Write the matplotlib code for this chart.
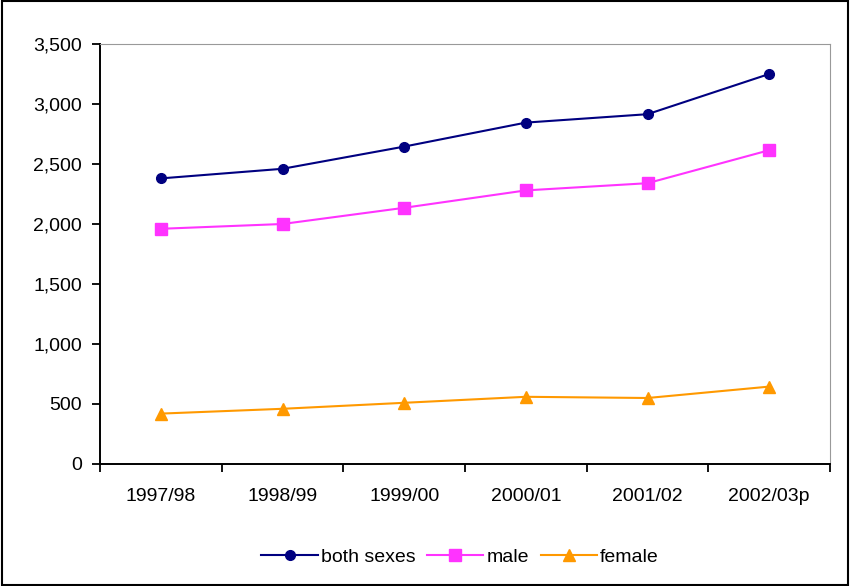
import matplotlib
matplotlib.use('Agg')
import matplotlib.pyplot as plt
from matplotlib.ticker import FuncFormatter, FixedLocator

# values
years = ['1997/98', '1998/99', '1999/00', '2000/01', '2001/02', '2002/03p']
both_sexes = [2380, 2460, 2645, 2845, 2915, 3250]
male = [1960, 2000, 2135, 2280, 2340, 2615]
female = [420, 460, 510, 560, 550, 645]

plt.rcParams['font.family'] = ['Liberation Sans', 'DejaVu Sans']

fig = plt.figure(figsize=(8.5, 5.86), dpi=100)
ax = fig.add_axes([100/850, 1 - 464/586, 730/850, 420/586])

x = range(len(years))
ax.plot(x, both_sexes, color='#000080', marker='o', markersize=7, lw=1.5, label='both sexes')
ax.plot(x, male, color='#FF33FF', marker='s', markersize=8, lw=1.5, label='male')
ax.plot(x, female, color='#FF9900', marker='^', markersize=8, lw=1.5, label='female')

ax.set_xlim(-0.5, len(years) - 0.5)
ax.set_ylim(0, 3500)
ax.set_yticks(range(0, 3501, 500))
ax.yaxis.set_major_formatter(FuncFormatter(lambda v, p: f'{int(v):,}'))

# category labels centred, tick marks on the boundaries
ax.set_xticks(list(x))
ax.set_xticklabels(years)
ax.xaxis.set_minor_locator(FixedLocator([i - 0.5 for i in range(len(years) + 1)]))
ax.tick_params(axis='x', which='major', length=0, pad=17, labelsize=14)
ax.tick_params(axis='x', which='minor', length=6, width=1.3, direction='out')
ax.tick_params(axis='y', length=6, width=1.3, pad=7, direction='out', labelsize=14)

for side in ['top', 'right']:
    ax.spines[side].set_color('#999999')
for side in ['left', 'bottom']:
    ax.spines[side].set_linewidth(1.4)

fig.legend(loc='center', bbox_to_anchor=(460/850, 1 - 557/586), ncol=3, frameon=False,
           fontsize=14, handlelength=2.9, columnspacing=0.6, handletextpad=0.15)

# outer frame around the whole chart
fig.patches.append(plt.Rectangle((0.002, 0.002), 0.996, 0.996, transform=fig.transFigure,
                                 fill=False, edgecolor='black', lw=1.5))

fig.savefig('out.png', dpi=100)
